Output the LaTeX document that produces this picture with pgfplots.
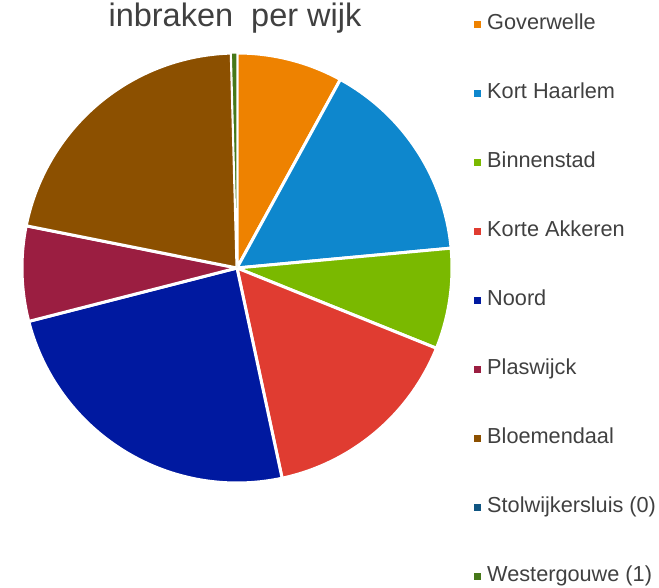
\documentclass[border=0pt]{standalone}
\usepackage{pgfplots}
\pgfplotsset{compat=1.18}
\usepackage{fontspec}
\setmainfont{Liberation Sans}
\definecolor{cG}{RGB}{238,130,0}
\definecolor{cKH}{RGB}{14,135,205}
\definecolor{cB}{RGB}{122,185,0}
\definecolor{cKA}{RGB}{224,60,49}
\definecolor{cN}{RGB}{0,25,160}
\definecolor{cP}{RGB}{155,30,65}
\definecolor{cBl}{RGB}{140,80,0}
\definecolor{cS}{RGB}{15,85,130}
\definecolor{cW}{RGB}{70,120,25}
\definecolor{txt}{RGB}{64,64,64}
% data: number of burglaries per district
\def\vG{19}\def\vKH{37}\def\vB{18}\def\vKA{37}\def\vN{58}\def\vP{17}\def\vBl{51}\def\vS{0}\def\vW{1}
\pgfmathsetmacro\total{\vG+\vKH+\vB+\vKA+\vN+\vP+\vBl+\vS+\vW}
\pgfmathsetmacro\aA{90}
\pgfmathsetmacro\aB{\aA-\vG/\total*360}
\pgfmathsetmacro\aC{\aB-\vKH/\total*360}
\pgfmathsetmacro\aD{\aC-\vB/\total*360}
\pgfmathsetmacro\aE{\aD-\vKA/\total*360}
\pgfmathsetmacro\aF{\aE-\vN/\total*360}
\pgfmathsetmacro\aG{\aF-\vP/\total*360}
\pgfmathsetmacro\aH{\aG-\vBl/\total*360}
\pgfmathsetmacro\aI{\aH-\vS/\total*360}
\pgfmathsetmacro\aJ{\aI-\vW/\total*360}
\begin{document}
\begin{tikzpicture}
\useasboundingbox (0,0) rectangle (659pt,587pt);
\begin{axis}[
  at={(22pt,104pt)}, anchor=south west,
  scale only axis, width=430pt, height=430pt,
  xmin=-1, xmax=1, ymin=-1, ymax=1,
  axis lines=none, clip=false,
  legend cell align=left,
  legend image code/.code={\fill[#1, draw=none] (0pt,-3.5pt) rectangle (7pt,3.5pt);},
  legend style={draw=none, fill=none, inner sep=0pt,
    at={(axis description cs:1.0512,1.0895)}, anchor=north west,
    row sep=49pt, column sep=6pt,
    font=\fontsize{21.7}{24}\selectfont\color{txt},
    nodes={inner sep=0pt, text height=15pt, text depth=5pt}},
  every axis plot/.append style={draw=white, line width=3pt, line join=round, samples=90},
]
\addplot[fill=cG, domain=\aB:\aA] ({cos(x)},{sin(x)}) -- (axis cs:0,0) -- cycle;
\addlegendentry{Goverwelle}
\addplot[fill=cKH, domain=\aC:\aB] ({cos(x)},{sin(x)}) -- (axis cs:0,0) -- cycle;
\addlegendentry{Kort Haarlem}
\addplot[fill=cB, domain=\aD:\aC] ({cos(x)},{sin(x)}) -- (axis cs:0,0) -- cycle;
\addlegendentry{Binnenstad}
\addplot[fill=cKA, domain=\aE:\aD] ({cos(x)},{sin(x)}) -- (axis cs:0,0) -- cycle;
\addlegendentry{Korte Akkeren}
\addplot[fill=cN, domain=\aF:\aE] ({cos(x)},{sin(x)}) -- (axis cs:0,0) -- cycle;
\addlegendentry{Noord}
\addplot[fill=cP, domain=\aG:\aF] ({cos(x)},{sin(x)}) -- (axis cs:0,0) -- cycle;
\addlegendentry{Plaswijck}
\addplot[fill=cBl, domain=\aH:\aG] ({cos(x)},{sin(x)}) -- (axis cs:0,0) -- cycle;
\addlegendentry{Bloemendaal}
\addlegendimage{fill=cS}
\addlegendentry{Stolwijkersluis (0)}
\addplot[fill=cW, line width=1.2pt, samples=5, domain=\aJ:\aI] ({cos(x)},{sin(x)}) -- (axis cs:0,0) -- cycle;
\addlegendentry{Westergouwe (1)}
\end{axis}
\node[anchor=base, text=txt, font=\fontsize{32.5}{36}\selectfont] at (235pt,560pt) {inbraken\ \ per wijk};
\end{tikzpicture}
\end{document}
